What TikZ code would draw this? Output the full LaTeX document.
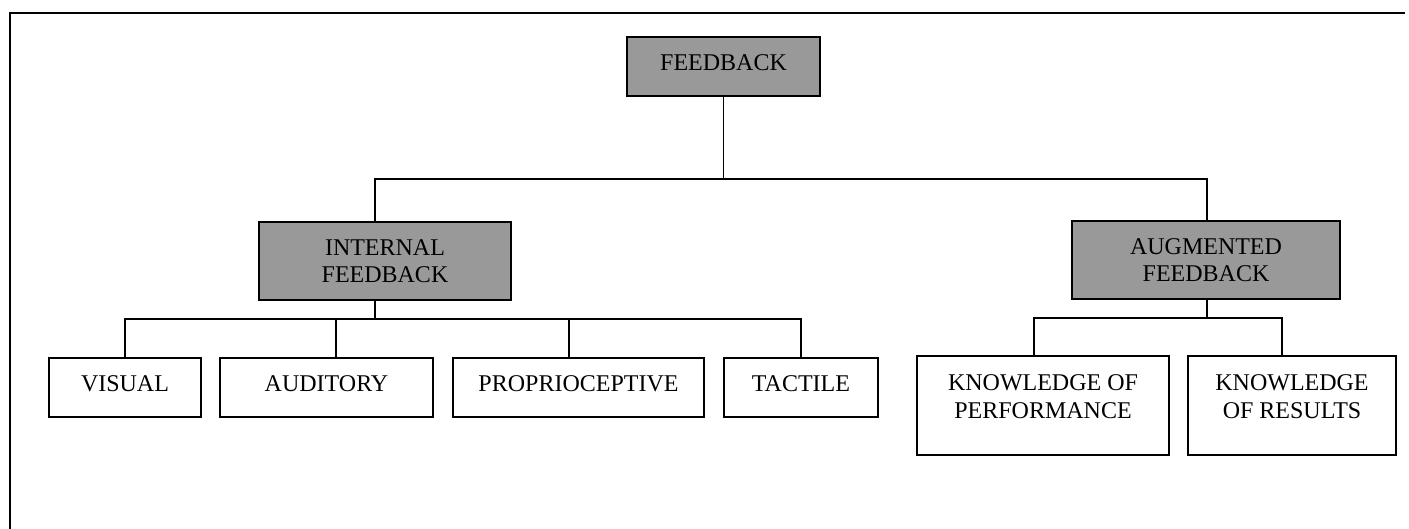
\documentclass[tikz,border=0pt]{standalone}
\usepackage{fontspec}
\setmainfont{Liberation Serif}
\usepackage{tikz}
\usetikzlibrary{positioning}
\definecolor{boxgray}{gray}{0.6}
\tikzstyle{group} = [rectangle, draw=black, fill=boxgray, line width=0.9pt, align=center, inner sep=0pt, font=\fontsize{12}{13.8}\selectfont]
\tikzstyle{element} = [rectangle, draw=black, fill=white, line width=0.9pt, align=center, inner sep=0pt, font=\fontsize{12}{13.8}\selectfont]
\tikzstyle{line} = [line width=0.9pt]
\begin{document}
\begin{tikzpicture}
			[x=0.5pt, y=-0.5pt]
			\useasboundingbox (0,0) rectangle (1409,529);
			% frame
			\draw[line] (10,529) -- (10,13) -- (1405,13);
			
			\node[group, minimum width=96.5pt, minimum height=29.5pt, text depth=4pt] (feedback) at (723.5,66.5) {FEEDBACK};
			\node[group, minimum width=126pt, minimum height=39pt] (internal) at (385,261) {INTERNAL\\FEEDBACK};
			\node[group, minimum width=134pt, minimum height=39pt] (augmented) at (1206,260) {AUGMENTED\\FEEDBACK};
			
			\node[element, minimum width=76pt, minimum height=29.5pt, text depth=4pt] (visual) at (125,387.5) {VISUAL};
			\node[element, minimum width=106.5pt, minimum height=29.5pt, text depth=4pt] (auditory) at (326.5,387.5) {AUDITORY};
			\node[element, minimum width=125.5pt, minimum height=29.5pt, text depth=4pt] (proprio) at (578.5,387.5) {PROPRIOCEPTIVE};
			\node[element, minimum width=77pt, minimum height=29.5pt, text depth=4pt] (tactile) at (801,387.5) {TACTILE};
			
			\node[element, minimum width=126pt, minimum height=49.5pt, text depth=9pt] (performance) at (1043,405.5) {KNOWLEDGE OF\\PERFORMANCE};
			\node[element, minimum width=104pt, minimum height=49.5pt, text depth=9pt] (results) at (1292,405.5) {KNOWLEDGE\\OF RESULTS};
			
			% connectors
			\coordinate (topbus) at (723.5,179);
			\coordinate (intbus) at (375,319);
			\coordinate (augbus) at (1207,318);
			
			\draw[line] (feedback) -- (topbus);
			\draw[line] ([xshift=-5pt]internal.north) |- (topbus) -| ([xshift=0.5pt]augmented.north);
			
			\draw[line] ([xshift=-5pt]internal.south) -- (intbus);
			\draw[line] (visual.north) |- (intbus) -| (tactile.north);
			\draw[line] ([xshift=4.75pt]auditory.north) -- ([xshift=4.75pt]auditory.north |- intbus);
			\draw[line] ([xshift=-4.75pt]proprio.north) -- ([xshift=-4.75pt]proprio.north |- intbus);
			
			\draw[line] ([xshift=0.5pt]augmented.south) -- (augbus);
			\draw[line] ([xshift=-4.5pt]performance.north) |- (augbus) -| ([xshift=-5pt]results.north);
			\end{tikzpicture}
\end{document}
